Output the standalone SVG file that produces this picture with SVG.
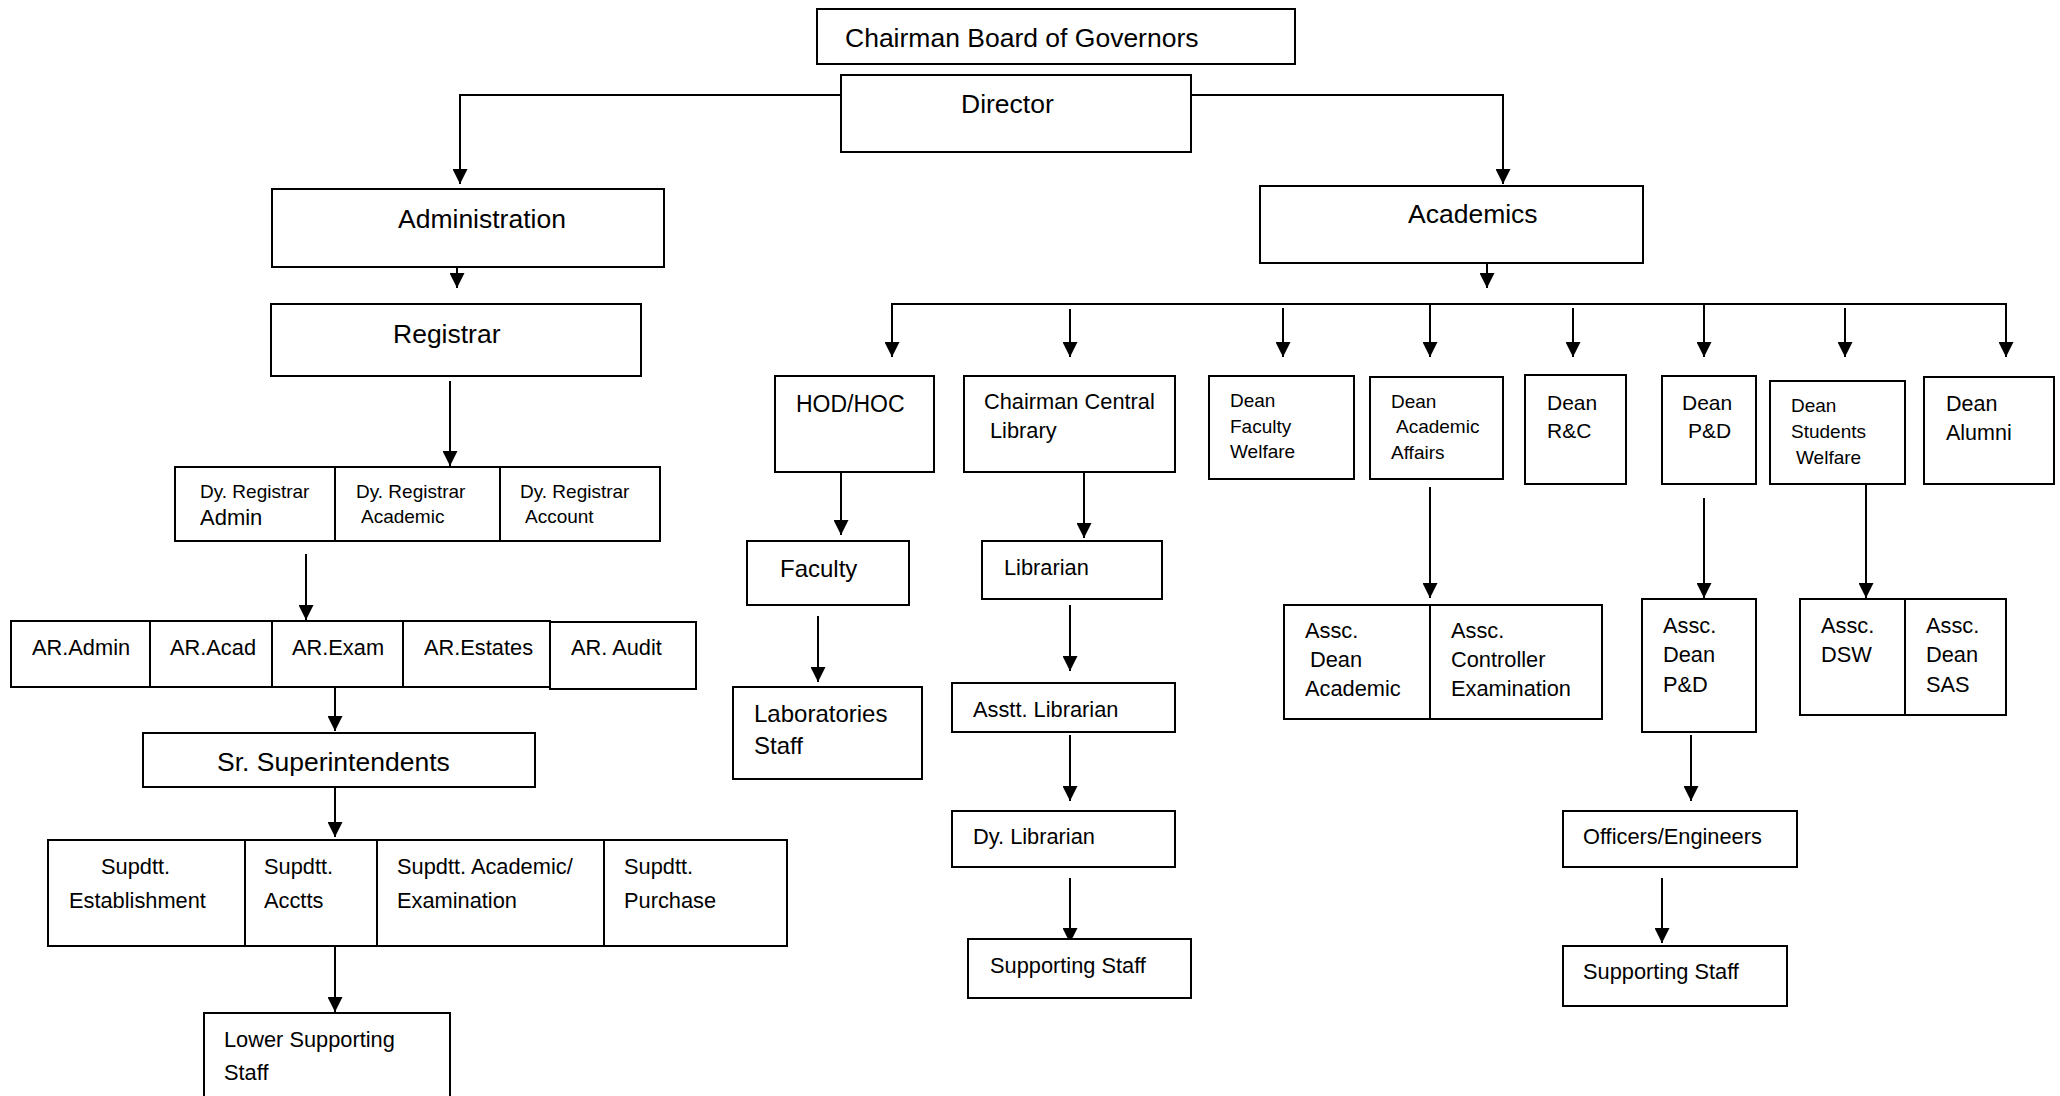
<svg xmlns="http://www.w3.org/2000/svg" width="2060" height="1096" viewBox="0 0 2060 1096">
<style>
.box{fill:#fff;stroke:#000;stroke-width:2}
text{font-family:"Liberation Sans",Arial,sans-serif;fill:#000}
.L{font-size:26.5px}
.M{font-size:21.8px}
.S{font-size:19px}
.con line,.con polyline{stroke:#000;stroke-width:2;fill:none}
.arr{marker-end:url(#ah)}
</style>
<defs>
<marker id="ah" viewBox="0 0 10 10" refX="10" refY="5" markerUnits="userSpaceOnUse" markerWidth="15" markerHeight="15" orient="auto">
<path d="M0,0 L10,5 L0,10 z" fill="#000"/>
</marker>
</defs>
<rect width="2060" height="1096" fill="#fff"/>

<g class="con">
<polyline class="arr" points="841,95 460,95 460,184"/>
<polyline class="arr" points="1191,95 1503,95 1503,184"/>
<line class="arr" x1="457" y1="267" x2="457" y2="288"/>
<line class="arr" x1="450" y1="381" x2="450" y2="466"/>
<line class="arr" x1="306" y1="554" x2="306" y2="620"/>
<line class="arr" x1="335" y1="687" x2="335" y2="731"/>
<line class="arr" x1="335" y1="787" x2="335" y2="837"/>
<line class="arr" x1="335" y1="946" x2="335" y2="1012"/>
<line class="arr" x1="1487" y1="263" x2="1487" y2="288"/>
<line x1="892" y1="304" x2="2006" y2="304"/>
<line class="arr" x1="892" y1="303" x2="892" y2="357"/>
<line class="arr" x1="1070" y1="309" x2="1070" y2="357"/>
<line class="arr" x1="1283" y1="308" x2="1283" y2="357"/>
<line class="arr" x1="1430" y1="304" x2="1430" y2="357"/>
<line class="arr" x1="1573" y1="308" x2="1573" y2="357"/>
<line class="arr" x1="1704" y1="304" x2="1704" y2="357"/>
<line class="arr" x1="1845" y1="308" x2="1845" y2="357"/>
<line class="arr" x1="2006" y1="303" x2="2006" y2="357"/>
<line class="arr" x1="841" y1="469" x2="841" y2="535"/>
<line class="arr" x1="818" y1="616" x2="818" y2="682"/>
<line class="arr" x1="1084" y1="472" x2="1084" y2="538"/>
<line class="arr" x1="1070" y1="605" x2="1070" y2="671"/>
<line class="arr" x1="1070" y1="735" x2="1070" y2="801"/>
<line class="arr" x1="1070" y1="878" x2="1070" y2="943"/>
<line class="arr" x1="1430" y1="487" x2="1430" y2="598"/>
<line class="arr" x1="1704" y1="498" x2="1704" y2="598"/>
<line class="arr" x1="1866" y1="484" x2="1866" y2="598"/>
<line class="arr" x1="1691" y1="735" x2="1691" y2="801"/>
<line class="arr" x1="1662" y1="878" x2="1662" y2="943"/>
</g>

<g id="chairman"><rect class="box" x="817" y="9" width="478" height="55"/><text class="L" x="845" y="47">Chairman Board of Governors</text></g>
<g id="director"><rect class="box" x="841" y="75" width="350" height="77"/><text class="L" x="961" y="113">Director</text></g>
<g id="administration"><rect class="box" x="272" y="189" width="392" height="78"/><text class="L" x="398" y="228">Administration</text></g>
<g id="academics"><rect class="box" x="1260" y="186" width="383" height="77"/><text class="L" x="1408" y="223">Academics</text></g>
<g id="registrar"><rect class="box" x="271" y="304" width="370" height="72"/><text class="L" x="393" y="343">Registrar</text></g>

<g id="dyreg-admin"><rect class="box" x="175" y="467" width="160" height="74"/><text class="S" x="200" y="498">Dy. Registrar</text><text x="200" y="525" font-size="22px">Admin</text></g>
<g id="dyreg-academic"><rect class="box" x="335" y="467" width="165" height="74"/><text class="S" x="356" y="498">Dy. Registrar</text><text class="S" x="361" y="523">Academic</text></g>
<g id="dyreg-account"><rect class="box" x="500" y="467" width="160" height="74"/><text class="S" x="520" y="498">Dy. Registrar</text><text class="S" x="525" y="523">Account</text></g>

<g id="ar-admin"><rect class="box" x="11" y="621" width="139" height="66"/><text class="M" x="32" y="655">AR.Admin</text></g>
<g id="ar-acad"><rect class="box" x="150" y="621" width="122" height="66"/><text class="M" x="170" y="655">AR.Acad</text></g>
<g id="ar-exam"><rect class="box" x="272" y="621" width="131" height="66"/><text class="M" x="292" y="655">AR.Exam</text></g>
<g id="ar-estates"><rect class="box" x="403" y="621" width="147" height="66"/><text class="M" x="424" y="655">AR.Estates</text></g>
<g id="ar-audit"><rect class="box" x="550" y="622" width="146" height="67"/><text class="M" x="571" y="655">AR. Audit</text></g>

<g id="sr-supdt"><rect class="box" x="143" y="733" width="392" height="54"/><text class="L" x="217" y="771">Sr. Superintendents</text></g>

<g id="supdtt-est"><rect class="box" x="48" y="840" width="197" height="106"/><text class="M" x="101" y="874">Supdtt.</text><text class="M" x="69" y="908">Establishment</text></g>
<g id="supdtt-acctts"><rect class="box" x="245" y="840" width="132" height="106"/><text class="M" x="264" y="874">Supdtt.</text><text class="M" x="264" y="908">Acctts</text></g>
<g id="supdtt-acad"><rect class="box" x="377" y="840" width="227" height="106"/><text class="M" x="397" y="874">Supdtt. Academic/</text><text class="M" x="397" y="908">Examination</text></g>
<g id="supdtt-purchase"><rect class="box" x="604" y="840" width="183" height="106"/><text class="M" x="624" y="874">Supdtt.</text><text class="M" x="624" y="908">Purchase</text></g>

<g id="lower-staff"><rect class="box" x="204" y="1013" width="246" height="100"/><text class="M" x="224" y="1047">Lower Supporting</text><text class="M" x="224" y="1080">Staff</text></g>

<g id="hod"><rect class="box" x="775" y="376" width="159" height="96"/><text x="796" y="412" font-size="23px">HOD/HOC</text></g>
<g id="faculty"><rect class="box" x="747" y="541" width="162" height="64"/><text x="780" y="577" font-size="24px">Faculty</text></g>
<g id="lab-staff"><rect class="box" x="733" y="687" width="189" height="92"/><text x="754" y="722" font-size="24px">Laboratories</text><text x="754" y="754" font-size="24px">Staff</text></g>

<g id="ccl"><rect class="box" x="964" y="376" width="211" height="96"/><text class="M" x="984" y="409">Chairman Central</text><text class="M" x="990" y="438">Library</text></g>
<g id="librarian"><rect class="box" x="982" y="541" width="180" height="58"/><text class="M" x="1004" y="575">Librarian</text></g>
<g id="asstt-librarian"><rect class="box" x="952" y="683" width="223" height="49"/><text class="M" x="973" y="717">Asstt. Librarian</text></g>
<g id="dy-librarian"><rect class="box" x="952" y="811" width="223" height="56"/><text class="M" x="973" y="844">Dy. Librarian</text></g>
<g id="lib-support"><rect class="box" x="968" y="939" width="223" height="59"/><text class="M" x="990" y="973">Supporting Staff</text></g>

<g id="dean-fw"><rect class="box" x="1209" y="376" width="145" height="103"/><text class="S" x="1230" y="407">Dean</text><text class="S" x="1230" y="433">Faculty</text><text class="S" x="1230" y="458">Welfare</text></g>
<g id="dean-aa"><rect class="box" x="1370" y="377" width="133" height="102"/><text class="S" x="1391" y="408">Dean</text><text class="S" x="1396" y="433">Academic</text><text class="S" x="1391" y="459">Affairs</text></g>
<g id="dean-rc"><rect class="box" x="1525" y="375" width="101" height="109"/><text x="1547" y="410" font-size="21px">Dean</text><text x="1547" y="438" font-size="21px">R&amp;C</text></g>
<g id="dean-pd"><rect class="box" x="1662" y="376" width="94" height="108"/><text x="1682" y="410" font-size="21px">Dean</text><text x="1688" y="438" font-size="21px">P&amp;D</text></g>
<g id="dean-sw"><rect class="box" x="1770" y="381" width="135" height="103"/><text class="S" x="1791" y="412">Dean</text><text class="S" x="1791" y="438">Students</text><text class="S" x="1796" y="464">Welfare</text></g>
<g id="dean-alumni"><rect class="box" x="1924" y="377" width="130" height="107"/><text x="1946" y="411" font-size="21.5px">Dean</text><text x="1946" y="440" font-size="21.5px">Alumni</text></g>

<g id="assc-dean-acad"><rect class="box" x="1284" y="605" width="146" height="114"/><text class="M" x="1305" y="638">Assc.</text><text class="M" x="1310" y="667">Dean</text><text class="M" x="1305" y="696">Academic</text></g>
<g id="assc-controller"><rect class="box" x="1430" y="605" width="172" height="114"/><text class="M" x="1451" y="638">Assc.</text><text class="M" x="1451" y="667">Controller</text><text class="M" x="1451" y="696">Examination</text></g>
<g id="assc-dean-pd"><rect class="box" x="1642" y="599" width="114" height="133"/><text class="M" x="1663" y="633">Assc.</text><text class="M" x="1663" y="662">Dean</text><text class="M" x="1663" y="692">P&amp;D</text></g>
<g id="assc-dsw"><rect class="box" x="1800" y="599" width="105" height="116"/><text class="M" x="1821" y="633">Assc.</text><text class="M" x="1821" y="662">DSW</text></g>
<g id="assc-dean-sas"><rect class="box" x="1905" y="599" width="101" height="116"/><text class="M" x="1926" y="633">Assc.</text><text class="M" x="1926" y="662">Dean</text><text class="M" x="1926" y="692">SAS</text></g>
<g id="officers"><rect class="box" x="1563" y="811" width="234" height="56"/><text class="M" x="1583" y="844">Officers/Engineers</text></g>
<g id="pd-support"><rect class="box" x="1563" y="946" width="224" height="60"/><text class="M" x="1583" y="979">Supporting Staff</text></g>
</svg>
